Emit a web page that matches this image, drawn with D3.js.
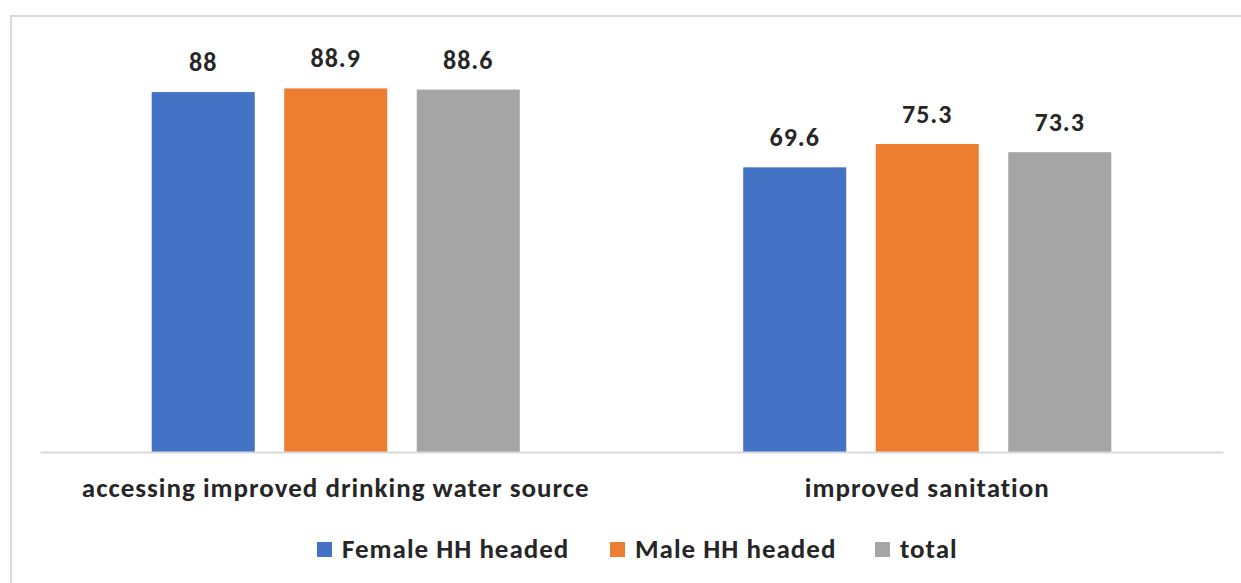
<!DOCTYPE html>
<html>
<head>
<meta charset="utf-8">
<script src="https://cdn.jsdelivr.net/npm/d3@7"></script>
<style>
  body { margin: 0; background: #fff; }
  svg { display: block; font-family: Carlito, "Open Sans", Lato, sans-serif; }
</style>
</head>
<body>
<svg id="chart"></svg>
<script>
// chart data
let categories = ['accessing improved drinking water source', 'improved sanitation'];
let seriesNames = ['Female HH headed', 'Male HH headed', 'total'];
let female = [88, 69.6];
let male = [88.9, 75.3];
let total = [88.6, 73.3];
let colors = ['#4472c4', '#ed7d31', '#a5a5a5'];

let width = 1241;
let height = 583;
let svg = d3.select('#chart').attr('width', width).attr('height', height);

// frame (cropped on right and bottom)
svg.append('path')
  .attr('d', 'M11,' + height + 'V16H' + width)
  .attr('fill', 'none')
  .attr('stroke', '#d9d9d9')
  .attr('stroke-width', 2);

let values = [female, male, total];
let rows = categories.map(function(c, i){
  return seriesNames.map(function(s, j){
    return {cat: c, name: s, value: values[j][i], color: colors[j]};
  });
});

let x0 = d3.scaleBand()
  .domain(categories)
  .range([40, 1223]);
let x1 = d3.scaleBand()
  .domain(seriesNames)
  .range([0, x0.bandwidth()])
  .paddingInner(0.2226)
  .paddingOuter(0.843);
let y = d3.scaleLinear()
  .domain([0, 100])
  .range([452, 43]);

// bars
let groups = svg.selectAll('.group')
  .data(rows)
  .enter()
  .append('g')
  .attr('class', 'group')
  .attr('transform', function(d, i){ return 'translate(' + x0(categories[i]) + ',0)'; });

groups.selectAll('rect')
  .data(function(d){ return d; })
  .enter()
  .append('rect')
  .attr('x', function(d){ return x1(d.name); })
  .attr('y', function(d){ return y(d.value); })
  .attr('width', x1.bandwidth())
  .attr('height', function(d){ return y(0) - y(d.value); })
  .attr('fill', function(d){ return d.color; });

// value labels
groups.selectAll('.val')
  .data(function(d){ return d; })
  .enter()
  .append('text')
  .attr('class', 'val')
  .attr('x', function(d){ return x1(d.name) + x1.bandwidth() / 2; })
  .attr('y', function(d){ return y(d.value) - 21; })
  .attr('text-anchor', 'middle')
  .attr('font-size', 26)
  .attr('letter-spacing', 1)
  .attr('font-weight', 'bold')
  .attr('fill', '#262626')
  .text(function(d){ return d.value; });

// x axis
let xAxis = d3.axisBottom(x0).tickSize(0).tickPadding(26);
let axisG = svg.append('g')
  .attr('class', 'axisX')
  .attr('transform', 'translate(0,452)')
  .call(xAxis);
axisG.select('.domain').attr('stroke', '#d9d9d9').attr('stroke-width', 2);
axisG.selectAll('text')
  .attr('font-size', 27)
  .attr('letter-spacing', 1)
  .attr('font-weight', 600)
  .attr('fill', '#262626')
  .attr('font-family', 'Carlito, "Open Sans", Lato, sans-serif');

// legend
let legendX = [317, 610, 875];
let legend = svg.selectAll('.legend')
  .data(seriesNames)
  .enter()
  .append('g')
  .attr('class', 'legend')
  .attr('transform', function(d, i){ return 'translate(' + legendX[i] + ',542)'; });
legend.append('rect')
  .attr('width', 15)
  .attr('height', 15)
  .attr('fill', function(d, i){ return colors[i]; });
legend.append('text')
  .attr('x', 25)
  .attr('y', 16)
  .attr('font-size', 27)
  .attr('letter-spacing', 1)
  .attr('font-weight', 600)
  .attr('fill', '#262626')
  .text(function(d){ return d; });
</script>
</body>
</html>
